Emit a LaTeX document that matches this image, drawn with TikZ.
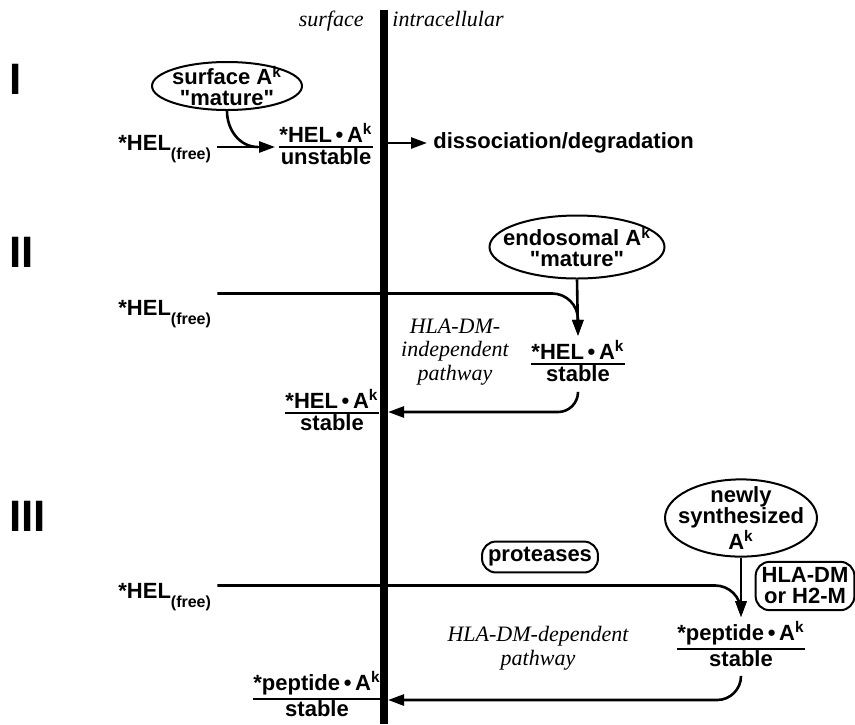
\documentclass[tikz,border=0pt]{standalone}
\usepackage{fontspec}
\setmainfont{Liberation Serif}
\setsansfont{Liberation Sans}
\usepackage{tikz}
\usetikzlibrary{shapes}
\usetikzlibrary{positioning}
\usetikzlibrary{arrows.meta}
\setlength{\arrayrulewidth}{1.2pt}
\newcommand{\cplx}[3][-1.3pt]{\begin{tabular}{@{}c@{}}#2\\[#1]\hline #3\end{tabular}}
\newcommand{\Ak}{A\textsuperscript{k}}
\newcommand{\bnd}{\,\textbullet\,}
\newcommand{\hfree}{*HEL\raisebox{-4.5pt}{\fontsize{8}{8}\selectfont(free)}}
\newcommand{\mat}{\textquotedbl mature\textquotedbl}

\begin{document}
\begin{tikzpicture}[x=0.5pt,y=-0.5pt]
\tikzstyle{lbl}=[font=\sffamily\bfseries\fontsize{11}{10.5}\selectfont, inner sep=3pt]
\tikzstyle{cell}=[lbl, ellipse, draw, line width=1pt, inner xsep=-6pt, inner ysep=-2pt, align=center]
\tikzstyle{complex}=[lbl, inner sep=2pt]
\tikzstyle{enzyme}=[lbl, draw, rounded corners=7pt, line width=1pt, align=center]
\tikzstyle{stage}=[font=\sffamily\bfseries\fontsize{22}{22}\selectfont, anchor=west, inner sep=0pt]
\tikzstyle{side}=[font=\itshape\fontsize{11}{11.75}\selectfont, inner sep=0pt]
\tikzstyle{route}=[side, align=center]
\tikzstyle{flow}=[line width=1.3pt]
\tikzstyle{arr}=[flow, -{Triangle[length=8pt,width=5.5pt]}]
\tikzstyle{membrane}=[line width=4pt]
\useasboundingbox (0,0) rectangle (855,724);

\node[side, anchor=base east] (sfc) at (364,26) {surface};
\node[side, anchor=base west] (icl) at (392,26) {intracellular};
\coordinate (memtop) at (384,10);
\coordinate (membot) at (384,724);
\draw[membrane] (memtop) -- (membot);

\node[stage] (st1) at (9,79) {I};
\node[stage] (st2) at (9,252) {II};
\node[stage] (st3) at (9,516) {III};

\node[cell, minimum width=75pt, minimum height=24pt] (ell1) at (227,86) {surface \Ak\\\mat};
\node[lbl, anchor=base west] (free1) at (112,150) {\hfree};
\node[complex] (frac1) at (326,147) {\cplx{*HEL\bnd\Ak}{unstable}};
\node[lbl, anchor=west] (dissoc) at (427,143) {dissociation/degradation};
\coordinate (j1) at (258,147);
\coordinate (m1) at (388,143);
\draw[arr] (free1.east |- frac1.west) -- (frac1.west);
\draw[flow] (ell1.south) to[out=-90, in=180] (j1);
\draw[arr] (m1) -- (dissoc.west);

\node[cell, minimum width=87.5pt, minimum height=31.5pt] (ell2) at (577,247) {endosomal \Ak\\\mat};
\node[lbl, anchor=base west] (free2) at (112,315) {\hfree};
\node[complex] (frac2r) at (578,364) {\cplx{*HEL\bnd\Ak}{stable}};
\node[complex] (frac2l) at (332,413) {\cplx{*HEL\bnd\Ak}{stable}};
\node[route] (dmind) at (455,352) {HLA-DM-\\independent\\pathway};
\coordinate (m2) at (388,412);
\draw[arr, rounded corners=13pt] (free2.north east) -| (frac2r.north);
\draw[arr] (ell2.south) -- (frac2r.north);
\draw[arr, rounded corners=10pt] (frac2r.south) |- (m2);

\node[cell, minimum width=76pt, minimum height=38.5pt] (ell3) at (741,518) {newly\\synthesized\\\Ak};
\node[lbl, anchor=base west] (free3) at (112,598) {\hfree};
\node[enzyme] (prot) at (540,557) {proteases};
\node[enzyme] (dm) at (805,586) {HLA-DM\\or H2-M};
\node[complex] (frac3r) at (741,647) {\cplx[0.5pt]{*peptide\bnd\Ak}{stable}};
\node[complex] (frac3l) at (317,697) {\cplx[0.5pt]{*peptide\bnd\Ak}{stable}};
\node[route] (dmdep) at (538,648) {HLA-DM-dependent\\pathway};
\coordinate (m3) at (388,700);
\draw[arr, rounded corners=13pt] ([yshift=-4.5pt]free3.north east) -| (frac3r.north);
\draw[arr] (ell3.south) -- (frac3r.north);
\draw[arr, rounded corners=12pt] (frac3r.south) |- (m3);
\end{tikzpicture}
\end{document}
